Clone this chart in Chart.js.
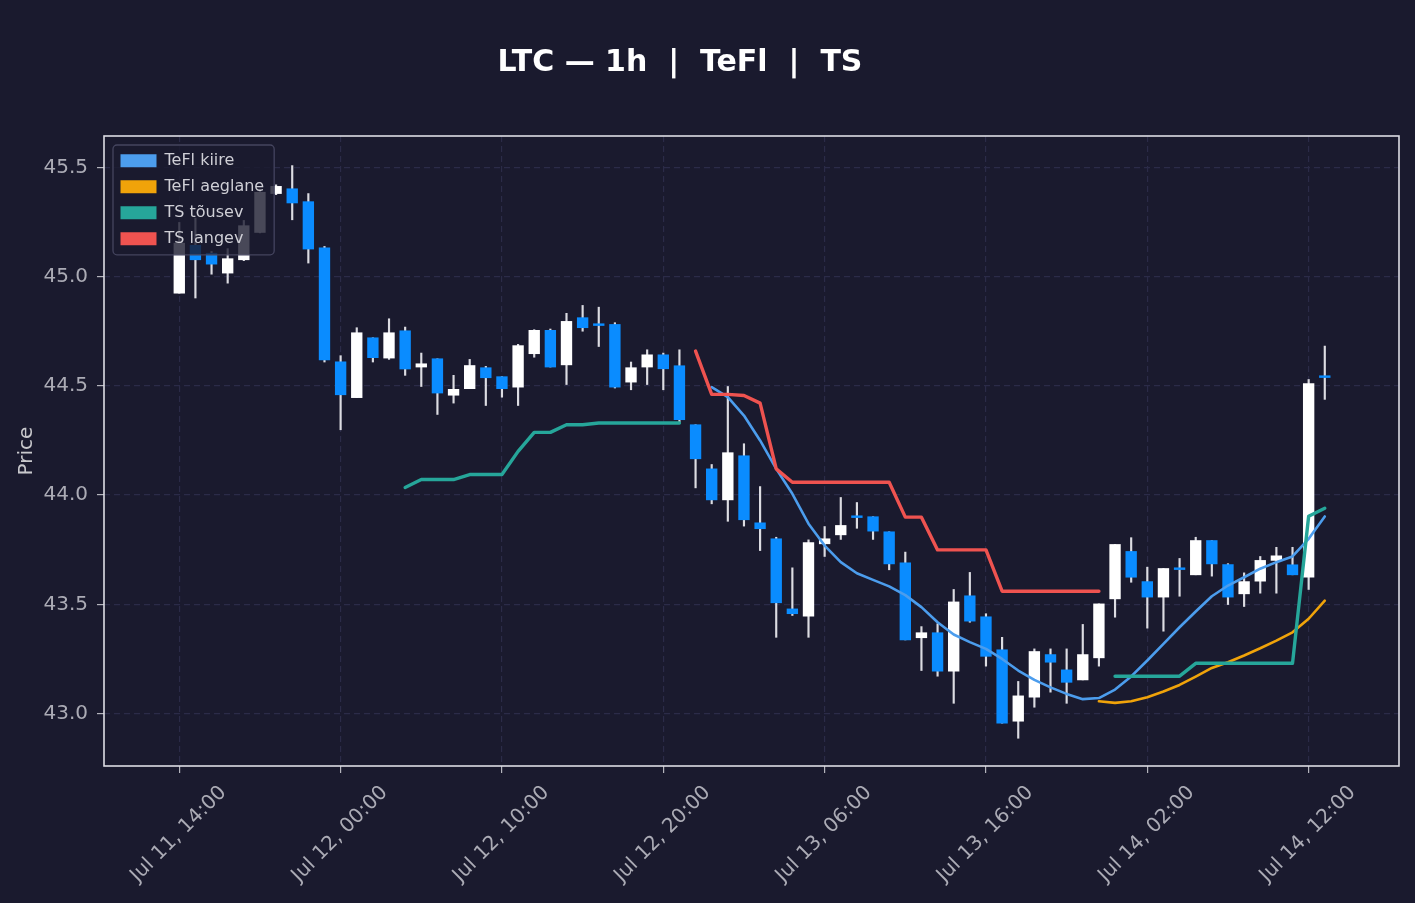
<!DOCTYPE html>
<html>
<head>
<meta charset="utf-8">
<script src="https://cdn.jsdelivr.net/npm/chart.js@4.4.1/dist/chart.umd.min.js"></script>
<style>
html,body{margin:0;padding:0;background:#1a1a2e;}
canvas{display:block;}
</style>
</head>
<body>
<canvas id="c" width="1415" height="903"></canvas>
<script>
// ---- data ----
const candleHours = [0,1,2,3,4,5,6,7,8,9,10,11,12,13,14,15,16,17,18,19,20,21,22,23,24,25,26,27,28,29,30,31,32,33,34,35,36,37,38,39,40,41,42,43,44,45,46,47,48,49,50,51,52,53,54,55,56,57,58,59,60,61,62,63,64,65,66,67,68,69,70,71];

const opens = [44.924,45.143,45.107,45.016,45.077,45.202,45.380,45.402,45.343,45.132,
44.610,44.446,44.720,44.627,44.752,44.586,44.624,44.457,44.487,44.583,
44.542,44.494,44.647,44.754,44.596,44.812,44.780,44.781,44.517,44.586,
44.642,44.592,44.322,44.120,43.978,44.180,43.873,43.800,43.479,43.446,
43.777,43.818,43.901,43.901,43.832,43.690,43.347,43.370,43.194,43.539,
43.443,43.292,42.965,43.075,43.270,43.200,43.154,43.255,43.525,43.742,
43.604,43.533,43.663,43.635,43.792,43.682,43.548,43.606,43.701,43.681,
43.624,44.542];

const highs = [45.248,45.268,45.115,45.128,45.257,45.400,45.420,45.508,45.380,45.138,
44.638,44.766,44.720,44.807,44.769,44.650,44.624,44.548,44.621,44.589,
44.542,44.690,44.757,44.760,44.832,44.868,44.860,44.789,44.609,44.665,
44.650,44.665,44.322,44.140,44.497,44.235,44.039,43.807,43.667,43.795,
43.856,43.989,43.966,43.901,43.832,43.739,43.398,43.411,43.568,43.646,
43.457,43.349,43.147,43.296,43.296,43.296,43.408,43.502,43.774,43.805,
43.670,43.664,43.710,43.807,43.792,43.686,43.644,43.719,43.761,43.761,
44.529,44.682];

const lows = [44.924,44.902,45.011,44.970,45.073,45.200,45.375,45.260,45.062,44.609,
44.299,44.446,44.609,44.621,44.548,44.497,44.369,44.421,44.487,44.410,
44.448,44.410,44.631,44.586,44.506,44.750,44.680,44.490,44.482,44.506,
44.482,44.334,44.033,43.960,43.880,43.858,43.746,43.349,43.449,43.349,
43.719,43.797,43.848,43.797,43.658,43.337,43.197,43.171,43.047,43.418,
43.217,42.956,42.887,43.029,43.098,43.047,43.154,43.217,43.441,43.601,
43.391,43.377,43.537,43.635,43.629,43.499,43.490,43.551,43.551,43.635,
43.568,44.438];

const closes = [45.153,45.077,45.057,45.082,45.233,45.386,45.413,45.337,45.126,44.619,
44.459,44.743,44.629,44.743,44.577,44.601,44.467,44.484,44.593,44.537,
44.487,44.684,44.754,44.586,44.795,44.766,44.776,44.494,44.583,44.642,
44.578,44.345,44.166,43.978,44.194,43.887,43.846,43.507,43.457,43.783,
43.800,43.861,43.897,43.835,43.685,43.337,43.370,43.194,43.511,43.423,
43.262,42.956,43.081,43.284,43.235,43.143,43.270,43.502,43.774,43.624,
43.533,43.664,43.659,43.792,43.685,43.533,43.604,43.701,43.722,43.635,
44.510,44.538];

const teflFast = [null,null,null,null,null,null,null,null,null,null,
null,null,null,null,null,null,null,null,null,null,
null,null,null,null,null,null,null,null,null,null,
null,null,null,44.494,44.448,44.364,44.250,44.120,44.006,43.869,
43.769,43.693,43.642,43.612,43.582,43.542,43.487,43.418,43.362,43.327,
43.296,43.250,43.197,43.154,43.120,43.090,43.066,43.071,43.110,43.170,
43.243,43.319,43.395,43.467,43.537,43.586,43.624,43.663,43.693,43.719,
43.800,43.902];

const teflSlow = [null,null,null,null,null,null,null,null,null,null,
null,null,null,null,null,null,null,null,null,null,
null,null,null,null,null,null,null,null,null,null,
null,null,null,null,null,null,null,null,null,null,
null,null,null,null,null,null,null,null,null,null,
null,null,null,null,null,null,null,43.056,43.049,43.056,
43.075,43.101,43.131,43.169,43.209,43.235,43.266,43.299,43.334,43.372,
43.434,43.517];

const tsUp = [null,null,null,null,null,null,null,null,null,null,
null,null,null,null,44.035,44.071,44.071,44.071,44.094,44.094,
44.094,44.200,44.287,44.287,44.322,44.322,44.330,44.330,44.330,44.330,
44.330,44.330,null,null,null,null,null,null,null,null,
null,null,null,null,null,null,null,null,null,null,
null,null,null,null,null,null,null,null,43.171,43.171,
43.171,43.171,43.171,43.230,43.230,43.230,43.230,43.230,43.230,43.230,
43.903,43.940];

const tsDown = [null,null,null,null,null,null,null,null,null,null,
null,null,null,null,null,null,null,null,null,null,
null,null,null,null,null,null,null,null,null,null,
null,null,44.659,44.461,44.461,44.456,44.421,44.120,44.059,44.059,
44.059,44.059,44.059,44.059,44.059,43.899,43.899,43.749,43.749,43.749,
43.749,43.560,43.560,43.560,43.560,43.560,43.560,43.560,null,null,
null,null,null,null,null,null,null,null,null,null,
null,null];

const xTickHours = [0,10,20,30,40,50,60,70];
const xTickLabels = ['Jul 11, 14:00','Jul 12, 00:00','Jul 12, 10:00','Jul 12, 20:00','Jul 13, 06:00','Jul 13, 16:00','Jul 14, 02:00','Jul 14, 12:00'];
const yTicks = [43.0,43.5,44.0,44.5,45.0,45.5];
const yTickLabels = ['43.0','43.5','44.0','44.5','45.0','45.5'];

const seriesNames = ['TeFl kiire','TeFl aeglane','TS tõusev','TS langev'];
const titleText = 'LTC — 1h  |  TeFl  |  TS';

// ---- styles ----
const UP = '#ffffff', DOWN = '#0a8cff', WICK = '#dcdce2';
const C_FAST = '#4c9ded', C_SLOW = '#f0a30a', C_UP = '#26a69a', C_DOWN = '#ef5350';

Chart.defaults.font.family = "'DejaVu Sans', sans-serif";
Chart.defaults.color = '#ababb5';

const toXY = arr => candleHours.map((x, i) => ({x: x, y: arr[i]}));
const bodyData = candleHours.map((x, i) => ({x: x, y: [opens[i], closes[i]]}));
const wickData = candleHours.map((x, i) => ({x: x, y: [lows[i], highs[i]]}));
const bodyColors = opens.map((o, i) => closes[i] >= o ? UP : DOWN);

const lineDs = (label, arr, color, w, order) => ({
  type: 'line', label: label, data: toXY(arr), borderColor: color, backgroundColor: color,
  borderWidth: w, pointRadius: 0, pointHoverRadius: 0, tension: 0, spanGaps: false, order: order,
  borderJoinStyle: 'round', borderCapStyle: 'round'
});

const chromePlugin = {
  id: 'chrome',
  afterLayout(chart) {
    const t = chart.titleBlock;
    if (t) { t.left = 0; t.right = 1360; }
  },
  beforeDraw(chart) {
    const L = chart.legend;
    if (L && !L.__orig) { L.__orig = L.draw; L.draw = function () {}; }
  },
  afterDatasetsDraw(chart) {
    const ctx = chart.ctx, a = chart.chartArea;
    ctx.save();
    ctx.strokeStyle = '#dcdce4';
    ctx.lineWidth = 1.6;
    ctx.strokeRect(a.left, a.top, a.right - a.left, a.bottom - a.top);
    ctx.restore();
    const L = chart.legend;
    if (!L || !L.__orig || !L.legendHitBoxes || !L.legendHitBoxes.length) return;
    const hb = L.legendHitBoxes;
    const dx = a.left + 16.5 - hb[0].left;
    const dy = a.top + 16.8 - hb[0].top;
    let l = Infinity, t = Infinity, r = -Infinity, b = -Infinity;
    hb.forEach(h => { l = Math.min(l, h.left); t = Math.min(t, h.top); r = Math.max(r, h.left + h.width); b = Math.max(b, h.top + h.height); });
    const bx = a.left + 9, by = a.top + 9;
    const bw = (r + dx) - bx + 10, bh = (b + dy) - by + 8;
    ctx.save();
    ctx.beginPath();
    if (ctx.roundRect) ctx.roundRect(bx, by, bw, bh, 4); else ctx.rect(bx, by, bw, bh);
    ctx.fillStyle = 'rgba(26,26,46,0.8)';
    ctx.fill();
    ctx.strokeStyle = '#45455f';
    ctx.lineWidth = 1.3;
    ctx.stroke();
    ctx.translate(dx, dy);
    L.__orig.call(L);
    ctx.restore();
  }
};

new Chart(document.getElementById('c'), {
  type: 'bar',
  data: {
    datasets: [
      lineDs(seriesNames[0], teflFast, C_FAST, 2.6, 3),
      lineDs(seriesNames[1], teflSlow, C_SLOW, 2.6, 2),
      lineDs(seriesNames[2], tsUp, C_UP, 3.4, 1),
      lineDs(seriesNames[3], tsDown, C_DOWN, 3.4, 0),
      {type: 'bar', label: 'body', data: bodyData, backgroundColor: bodyColors, borderWidth: 0,
       barThickness: 10.7, maxBarThickness: 10.7, minBarLength: 1.8, grouped: false, order: 4},
      {type: 'bar', label: 'wick', data: wickData, backgroundColor: WICK, borderWidth: 0,
       barThickness: 1.5, maxBarThickness: 1.5, grouped: false, order: 5}
    ]
  },
  options: {
    responsive: false,
    animation: false,
    devicePixelRatio: 1,
    layout: {padding: {left: 0, right: 16, top: 0, bottom: 0}},
    plugins: {
      tooltip: {enabled: false},
      title: {
        display: true, text: titleText, color: '#ffffff',
        font: {size: 30, weight: 'bold', lineHeight: 1.2},
        padding: {top: 45.5, bottom: 54.5}
      },
      legend: {
        display: true, position: 'chartArea', align: 'start',
        labels: {
          color: '#cfcfd6', font: {size: 16}, boxWidth: 36, boxHeight: 13, padding: 10,
          sort: (a, b) => a.datasetIndex - b.datasetIndex,
          generateLabels(chart) {
            const items = Chart.defaults.plugins.legend.labels.generateLabels(chart);
            return items
              .filter(it => chart.data.datasets[it.datasetIndex].type === 'line')
              .map(it => Object.assign({}, it, {fillStyle: it.strokeStyle, lineWidth: 0}));
          }
        }
      }
    },
    scales: {
      x: {
        type: 'linear', min: -4.666, max: 75.6, offset: false,
        afterBuildTicks: s => { s.ticks = xTickHours.map(v => ({value: v})); },
        afterFit: s => { s.height = 137; },
        grid: {color: '#2b2b48', lineWidth: 1.2, offset: false, drawTicks: true, tickLength: 7,
               tickColor: '#b4b4bc', tickWidth: 1.2, tickBorderDash: []},
        border: {display: false, dash: [6, 4]},
        ticks: {
          autoSkip: false, minRotation: 45, maxRotation: 45, padding: 8, labelOffset: 44,
          color: '#ababb5', font: {size: 20},
          callback: (v, i) => xTickLabels[i]
        }
      },
      y: {
        type: 'linear', min: 42.76, max: 45.6435, beginAtZero: false,
        afterBuildTicks: s => { s.ticks = yTicks.map(v => ({value: v})); },
        afterFit: s => { s.width = 104; },
        grid: {color: '#2b2b48', lineWidth: 1.2, drawTicks: true, tickLength: 7,
               tickColor: '#b4b4bc', tickWidth: 1.2, tickBorderDash: []},
        border: {display: false, dash: [6, 4]},
        ticks: {
          padding: 9, color: '#ababb5', font: {size: 20},
          callback: (v, i) => yTickLabels[i]
        },
        title: {display: true, text: 'Price', color: '#c8c8cc', font: {size: 20}, padding: {top: 15, bottom: 0}}
      }
    }
  },
  plugins: [chromePlugin]
});
</script>
</body>
</html>
